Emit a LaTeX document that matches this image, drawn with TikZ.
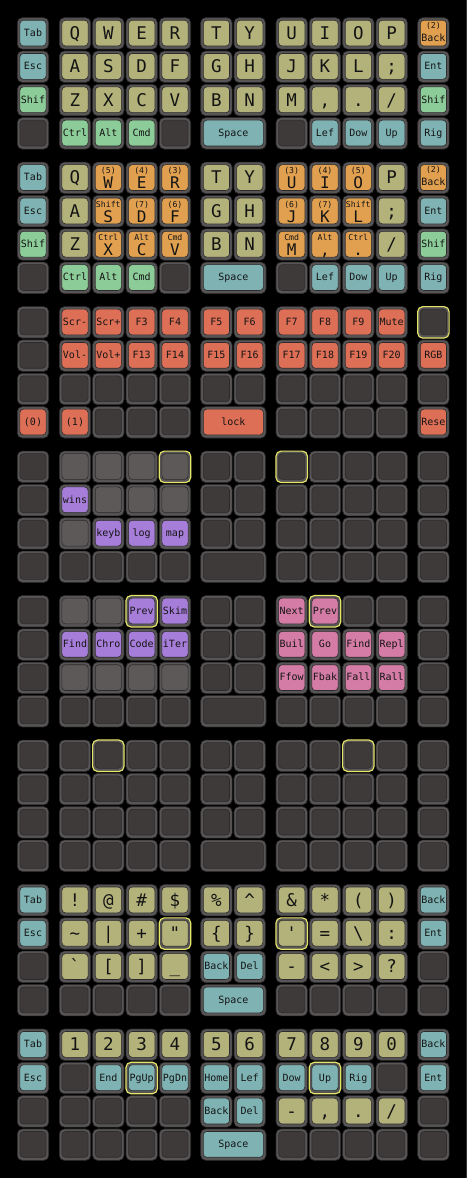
\documentclass[tikz,border=0pt]{standalone}
\usepackage{fontspec}
\setmonofont{DejaVu Sans Mono}
\definecolor{rim}{HTML}{575555}
\definecolor{edge}{HTML}{2C2A2A}
\definecolor{empty}{HTML}{3E3A3A}
\definecolor{lempty}{HTML}{5D5959}
\definecolor{khaki}{HTML}{B3B27B}
\definecolor{teal}{HTML}{7FB3B3}
\definecolor{green}{HTML}{8CCC98}
\definecolor{orange}{HTML}{E0A050}
\definecolor{red}{HTML}{DE6F57}
\definecolor{purple}{HTML}{A67ED9}
\definecolor{pink}{HTML}{D47CA6}
\definecolor{hly}{HTML}{E5E56A}
\definecolor{ink}{HTML}{141414}
\def\colL#1{\ifcase#1 17.3\or 59.3\or 92.6\or 126\or 159.3\or 200.7\or 234\or 276\or 309.3\or 342.6\or 376\or 417.7\fi}
\newcommand\KBASE[5]{%
 \pgfmathsetmacro\kl{\colL{#3}}%
 \pgfmathsetmacro\kt{17.7+144.47*#1+33.33*#2}%
 \pgfmathsetmacro\kc{\kl+#5/2}%
 \path[outerkey] (\kl,\kt) rectangle ++(#5,31.4);%
 \path[innerkey,fill=#4] (\kl+2.6,\kt+2.5) rectangle (\kl+#5-2.6,\kt+28.3);%
}
\newcommand\KE[3]{\KBASE{#1}{#2}{#3}{empty}{31.4}}
\newcommand\KL[3]{\KBASE{#1}{#2}{#3}{lempty}{31.4}}
\newcommand\KB[5]{\KBASE{#1}{#2}{#3}{#4}{31.4}\node[big] (b#1-#2-#3) at (\kc,\kt+21.8) {#5};}
\newcommand\KS[5]{\KBASE{#1}{#2}{#3}{#4}{31.4}\node[small] (s#1-#2-#3) at (\kc,\kt+18.7) {#5};}
\newcommand\KD[6]{\KBASE{#1}{#2}{#3}{#4}{31.4}\node[tiny] (u#1-#2-#3) at (\kc,\kt+11.5) {#5};\node[mid] (d#1-#2-#3) at (\kc,\kt+26.5) {#6};}
\newcommand\KBK[6]{\KBASE{#1}{#2}{#3}{#4}{31.4}\node[tiny] (u#1-#2-#3) at (\kc,\kt+10.8) {#5};\node[small] (s#1-#2-#3) at (\kc,\kt+23.7) {#6};}
\newcommand\KSP[3]{\KBASE{#1}{3}{5}{#2}{65.3}\node[small] (sp#1) at (\kc,\kt+18.7) {#3};}
\newcommand\KSPE[1]{\KBASE{#1}{3}{5}{empty}{65.3}}
\newcommand\HL[3]{\pgfmathsetmacro\kl{\colL{#3}}\pgfmathsetmacro\kt{17.7+144.47*#1+33.33*#2}\draw[hl] (\kl,\kt) rectangle ++(31.4,31.4);}
\begin{document}
\begin{tikzpicture}[x=1pt,y=-1pt,
  outerkey/.style={fill=rim,draw=edge,line width=0.6pt,rounded corners=5pt},
  innerkey/.style={draw=edge,line width=0.6pt,rounded corners=3.5pt},
  big/.style={font=\ttfamily\fontsize{17.5}{17.5}\selectfont,text=ink,anchor=base,inner sep=0pt},
  mid/.style={font=\ttfamily\fontsize{16}{16}\selectfont,text=ink,anchor=base,inner sep=0pt},
  small/.style={font=\ttfamily\fontsize{10}{10}\selectfont,text=ink,anchor=base,inner sep=0pt},
  tiny/.style={font=\ttfamily\fontsize{8.2}{8.2}\selectfont,text=ink,anchor=base,inner sep=0pt},
  hl/.style={draw=hly,line width=1.2pt,rounded corners=5pt}]
\fill[black] (0,0) rectangle (467,1178);
\useasboundingbox (0,0) rectangle (467,1178);
\draw[color=black!80!white,line width=0.8pt] (466,0) -- (466,1178);
% ---------- layer 0
\KS{0}{0}{0}{teal}{Tab}
\foreach \c/\lab in {1/Q,2/W,3/E,4/R,5/T,6/Y,7/U,8/I,9/O,10/P} {\KB{0}{0}{\c}{khaki}{\lab}}
\KBK{0}{0}{11}{orange}{(2)}{Back}
\KS{0}{1}{0}{teal}{Esc}
\foreach \c/\lab in {1/A,2/S,3/D,4/F,5/G,6/H,7/J,8/K,9/L,10/{;}} {\KB{0}{1}{\c}{khaki}{\lab}}
\KS{0}{1}{11}{teal}{Ent}
\KS{0}{2}{0}{green}{Shif}
\foreach \c/\lab in {1/Z,2/X,3/C,4/V,5/B,6/N,7/M,8/{,},9/{.},10/{/}} {\KB{0}{2}{\c}{khaki}{\lab}}
\KS{0}{2}{11}{green}{Shif}
\KE{0}{3}{0}
\KS{0}{3}{1}{green}{Ctrl}\KS{0}{3}{2}{green}{Alt}\KS{0}{3}{3}{green}{Cmd}
\KE{0}{3}{4}
\KSP{0}{teal}{Space}
\KE{0}{3}{7}
\KS{0}{3}{8}{teal}{Lef}\KS{0}{3}{9}{teal}{Dow}\KS{0}{3}{10}{teal}{Up}\KS{0}{3}{11}{teal}{Rig}
% ---------- layer 1
\KS{1}{0}{0}{teal}{Tab}
\KB{1}{0}{1}{khaki}{Q}
\KD{1}{0}{2}{orange}{(5)}{W}\KD{1}{0}{3}{orange}{(4)}{E}\KD{1}{0}{4}{orange}{(3)}{R}
\KB{1}{0}{5}{khaki}{T}\KB{1}{0}{6}{khaki}{Y}
\KD{1}{0}{7}{orange}{(3)}{U}\KD{1}{0}{8}{orange}{(4)}{I}\KD{1}{0}{9}{orange}{(5)}{O}
\KB{1}{0}{10}{khaki}{P}
\KBK{1}{0}{11}{orange}{(2)}{Back}
\KS{1}{1}{0}{teal}{Esc}
\KB{1}{1}{1}{khaki}{A}
\KD{1}{1}{2}{orange}{Shift}{S}\KD{1}{1}{3}{orange}{(7)}{D}\KD{1}{1}{4}{orange}{(6)}{F}
\KB{1}{1}{5}{khaki}{G}\KB{1}{1}{6}{khaki}{H}
\KD{1}{1}{7}{orange}{(6)}{J}\KD{1}{1}{8}{orange}{(7)}{K}\KD{1}{1}{9}{orange}{Shift}{L}
\KB{1}{1}{10}{khaki}{;}
\KS{1}{1}{11}{teal}{Ent}
\KS{1}{2}{0}{green}{Shif}
\KB{1}{2}{1}{khaki}{Z}
\KD{1}{2}{2}{orange}{Ctrl}{X}\KD{1}{2}{3}{orange}{Alt}{C}\KD{1}{2}{4}{orange}{Cmd}{V}
\KB{1}{2}{5}{khaki}{B}\KB{1}{2}{6}{khaki}{N}
\KD{1}{2}{7}{orange}{Cmd}{M}\KD{1}{2}{8}{orange}{Alt}{,}\KD{1}{2}{9}{orange}{Ctrl}{.}
\KB{1}{2}{10}{khaki}{/}
\KS{1}{2}{11}{green}{Shif}
\KE{1}{3}{0}
\KS{1}{3}{1}{green}{Ctrl}\KS{1}{3}{2}{green}{Alt}\KS{1}{3}{3}{green}{Cmd}
\KE{1}{3}{4}
\KSP{1}{teal}{Space}
\KE{1}{3}{7}
\KS{1}{3}{8}{teal}{Lef}\KS{1}{3}{9}{teal}{Dow}\KS{1}{3}{10}{teal}{Up}\KS{1}{3}{11}{teal}{Rig}
% ---------- layer 2
\KE{2}{0}{0}
\foreach \c/\lab in {1/Scr-,2/Scr+,3/F3,4/F4,5/F5,6/F6,7/F7,8/F8,9/F9,10/Mute} {\KS{2}{0}{\c}{red}{\lab}}
\KE{2}{0}{11}\HL{2}{0}{11}
\KE{2}{1}{0}
\foreach \c/\lab in {1/Vol-,2/Vol+,3/F13,4/F14,5/F15,6/F16,7/F17,8/F18,9/F19,10/F20} {\KS{2}{1}{\c}{red}{\lab}}
\KS{2}{1}{11}{red}{RGB}
\foreach \c in {0,...,11} {\KE{2}{2}{\c}}
\KS{2}{3}{0}{red}{(0)}\KS{2}{3}{1}{red}{(1)}
\foreach \c in {2,3,4,7,8,9,10} {\KE{2}{3}{\c}}
\KSP{2}{red}{lock}
\KS{2}{3}{11}{red}{Rese}
% ---------- layer 3
\KE{3}{0}{0}
\foreach \c in {1,2,3,4} {\KL{3}{0}{\c}}
\foreach \c in {5,...,11} {\KE{3}{0}{\c}}
\HL{3}{0}{4}\HL{3}{0}{7}
\KE{3}{1}{0}
\KS{3}{1}{1}{purple}{wins}
\foreach \c in {2,3,4} {\KL{3}{1}{\c}}
\foreach \c in {5,...,11} {\KE{3}{1}{\c}}
\KE{3}{2}{0}
\KL{3}{2}{1}
\KS{3}{2}{2}{purple}{keyb}\KS{3}{2}{3}{purple}{log}\KS{3}{2}{4}{purple}{map}
\foreach \c in {5,...,11} {\KE{3}{2}{\c}}
\foreach \c in {0,1,2,3,4,7,8,9,10,11} {\KE{3}{3}{\c}}
\KSPE{3}
% ---------- layer 4
\KE{4}{0}{0}
\KL{4}{0}{1}\KL{4}{0}{2}
\KS{4}{0}{3}{purple}{Prev}\KS{4}{0}{4}{purple}{Skim}
\KE{4}{0}{5}\KE{4}{0}{6}
\KS{4}{0}{7}{pink}{Next}\KS{4}{0}{8}{pink}{Prev}
\KE{4}{0}{9}\KE{4}{0}{10}\KE{4}{0}{11}
\HL{4}{0}{3}\HL{4}{0}{8}
\KE{4}{1}{0}
\foreach \c/\lab in {1/Find,2/Chro,3/Code,4/iTer} {\KS{4}{1}{\c}{purple}{\lab}}
\KE{4}{1}{5}\KE{4}{1}{6}
\foreach \c/\lab in {7/Buil,8/Go,9/Find,10/Repl} {\KS{4}{1}{\c}{pink}{\lab}}
\KE{4}{1}{11}
\KE{4}{2}{0}
\foreach \c in {1,2,3,4} {\KL{4}{2}{\c}}
\KE{4}{2}{5}\KE{4}{2}{6}
\foreach \c/\lab in {7/Ffow,8/Fbak,9/Fall,10/Rall} {\KS{4}{2}{\c}{pink}{\lab}}
\KE{4}{2}{11}
\foreach \c in {0,1,2,3,4,7,8,9,10,11} {\KE{4}{3}{\c}}
\KSPE{4}
% ---------- layer 5
\foreach \r in {0,1,2} {\foreach \c in {0,...,11} {\KE{5}{\r}{\c}}}
\foreach \c in {0,1,2,3,4,7,8,9,10,11} {\KE{5}{3}{\c}}
\KSPE{5}
\HL{5}{0}{2}\HL{5}{0}{9}
% ---------- layer 6
\KS{6}{0}{0}{teal}{Tab}
\KB{6}{0}{1}{khaki}{!}\KB{6}{0}{2}{khaki}{@}\KB{6}{0}{3}{khaki}{\#}\KB{6}{0}{4}{khaki}{\$}
\KB{6}{0}{5}{khaki}{\%}\KB{6}{0}{6}{khaki}{\textasciicircum}
\KB{6}{0}{7}{khaki}{\&}\KB{6}{0}{8}{khaki}{*}\KB{6}{0}{9}{khaki}{(}\KB{6}{0}{10}{khaki}{)}
\KS{6}{0}{11}{teal}{Back}
\KS{6}{1}{0}{teal}{Esc}
\KB{6}{1}{1}{khaki}{\textasciitilde}\KB{6}{1}{2}{khaki}{|}\KB{6}{1}{3}{khaki}{+}\KB{6}{1}{4}{khaki}{"}
\KB{6}{1}{5}{khaki}{\{}\KB{6}{1}{6}{khaki}{\}}
\KB{6}{1}{7}{khaki}{'}\KB{6}{1}{8}{khaki}{=}\KB{6}{1}{9}{khaki}{\textbackslash}\KB{6}{1}{10}{khaki}{:}
\KS{6}{1}{11}{teal}{Ent}
\HL{6}{1}{4}\HL{6}{1}{7}
\KE{6}{2}{0}
\KB{6}{2}{1}{khaki}{`}\KB{6}{2}{2}{khaki}{[}\KB{6}{2}{3}{khaki}{]}\KB{6}{2}{4}{khaki}{\_}
\KS{6}{2}{5}{teal}{Back}\KS{6}{2}{6}{teal}{Del}
\KB{6}{2}{7}{khaki}{-}\KB{6}{2}{8}{khaki}{<}\KB{6}{2}{9}{khaki}{>}\KB{6}{2}{10}{khaki}{?}
\KE{6}{2}{11}
\foreach \c in {0,1,2,3,4,7,8,9,10,11} {\KE{6}{3}{\c}}
\KSP{6}{teal}{Space}
% ---------- layer 7
\KS{7}{0}{0}{teal}{Tab}
\foreach \c/\lab in {1/1,2/2,3/3,4/4,5/5,6/6,7/7,8/8,9/9,10/0} {\KB{7}{0}{\c}{khaki}{\lab}}
\KS{7}{0}{11}{teal}{Back}
\KS{7}{1}{0}{teal}{Esc}
\KE{7}{1}{1}
\foreach \c/\lab in {2/End,3/PgUp,4/PgDn,5/Home,6/Lef,7/Dow,8/Up,9/Rig} {\KS{7}{1}{\c}{teal}{\lab}}
\KE{7}{1}{10}
\KS{7}{1}{11}{teal}{Ent}
\HL{7}{1}{3}\HL{7}{1}{8}
\foreach \c in {0,1,2,3,4,11} {\KE{7}{2}{\c}}
\KS{7}{2}{5}{teal}{Back}\KS{7}{2}{6}{teal}{Del}
\KB{7}{2}{7}{khaki}{-}\KB{7}{2}{8}{khaki}{,}\KB{7}{2}{9}{khaki}{.}\KB{7}{2}{10}{khaki}{/}
\foreach \c in {0,1,2,3,4,7,8,9,10,11} {\KE{7}{3}{\c}}
\KSP{7}{teal}{Space}
\end{tikzpicture}
\end{document}
